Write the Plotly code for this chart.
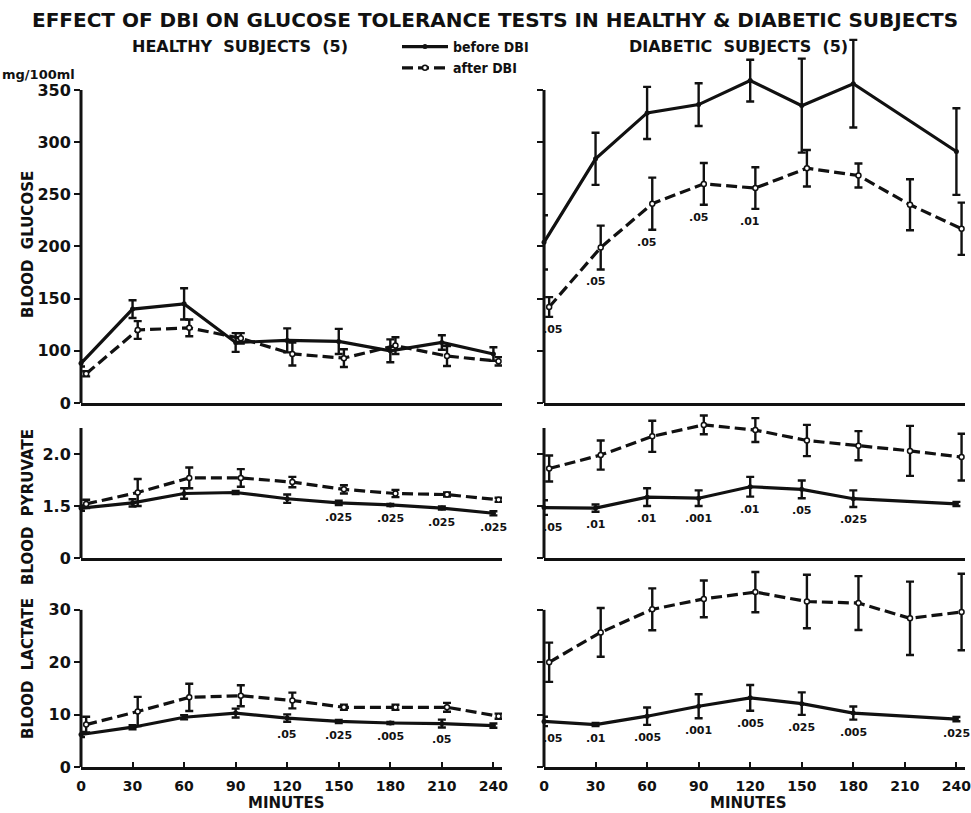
import plotly.graph_objects as go

# ---------------- data ----------------
minutes = [0, 30, 60, 90, 120, 150, 180, 210, 240]
minutes_after = [3, 33, 63, 93, 123, 153, 183, 213, 243]
x_ticks = [0, 30, 60, 90, 120, 150, 180, 210, 240]

# Healthy subjects
hg_before = [88, 140, 145, 108, 110, 109, 100, 108, 97]
hg_before_err = [3, 8.5, 15, 9, 11.5, 12, 11, 7, 6.5]
hg_after = [78, 120, 122, 112, 97, 93, 105, 95, 90]
hg_after_err = [2.5, 8.5, 8, 5, 11, 8.5, 8, 9.5, 4]

hp_before = [1.48, 1.53, 1.62, 1.63, 1.57, 1.53, 1.51, 1.48, 1.43]
hp_before_err = [0.025, 0.035, 0.05, 0.015, 0.04, 0.02, 0.01, 0.015, 0.02]
hp_after = [1.52, 1.63, 1.77, 1.77, 1.73, 1.66, 1.62, 1.61, 1.56]
hp_after_err = [0.04, 0.13, 0.1, 0.085, 0.05, 0.04, 0.035, 0.02, 0.02]

hl_before = [6.2, 7.6, 9.5, 10.3, 9.35, 8.7, 8.4, 8.3, 7.9]
hl_before_err = [0.5, 0.4, 0.4, 0.85, 0.7, 0.3, 0.2, 0.75, 0.4]
hl_after = [8.1, 10.6, 13.3, 13.6, 12.7, 11.4, 11.4, 11.4, 9.7]
hl_after_err = [1.5, 2.8, 2.6, 2.0, 1.5, 0.5, 0.5, 0.85, 0.5]

# Diabetic subjects
dg_before = [204, 284, 328, 336, 359, 335, 356, None, 291]
dg_before_err = [26, 25, 25, 20.5, 20, 45, 42, None, 41.5]
dg_after = [142, 199, 241, 260, 256, 275, 268, 240, 217]
dg_after_err = [9.5, 21, 25, 20, 20, 17.5, 11.5, 24.5, 25]

dp_before = [1.485, 1.48, 1.585, 1.575, 1.685, 1.66, 1.57, None, 1.52]
dp_before_err = [0.07, 0.035, 0.085, 0.075, 0.095, 0.085, 0.08, None, 0.02]
dp_after = [1.86, 1.99, 2.17, 2.28, 2.23, 2.13, 2.08, 2.03, 1.97]
dp_after_err = [0.125, 0.14, 0.15, 0.09, 0.115, 0.15, 0.14, 0.24, 0.225]

dl_before = [8.7, 8.1, 9.7, 11.6, 13.2, 12.1, 10.3, None, 9.15]
dl_before_err = [0.9, 0.3, 1.65, 2.3, 2.45, 2.15, 1.25, None, 0.4]
dl_after = [20.0, 25.7, 30.1, 32.1, 33.4, 31.6, 31.3, 28.4, 29.6]
dl_after_err = [3.75, 4.65, 4.0, 3.5, 3.85, 5.1, 5.15, 7.0, 7.3]

# significance (p) labels
hg_p = [None] * 9
hp_p = [None, None, None, None, None, ".025", ".025", ".025", ".025"]
hl_p = [None, None, None, None, ".05", ".025", ".005", ".05", None]
dg_p = [".05", ".05", ".05", ".05", ".01", None, None, None, None]
dp_p = [".05", ".01", ".01", ".001", ".01", ".05", ".025", None, None]
dl_p = [".05", ".01", ".005", ".001", ".005", ".025", ".005", None, ".025"]

# axis tick values / labels (axes are broken: the "0" sits one step below)
glu_tickvals = [50, 100, 150, 200, 250, 300, 350]
glu_ticktext = ["0", "100", "150", "200", "250", "300", "350"]
pyr_tickvals = [1.0, 1.5, 2.0]
pyr_ticktext = ["0", "1.5", "2.0"]
lac_tickvals = [0, 10, 20, 30]
lac_ticktext = ["0", "10", "20", "30"]

# ---------------- layout helpers ----------------
W, H = 971, 813
FONT = "DejaVu Sans"
NARROW = "Liberation Sans Narrow, DejaVu Sans Condensed, Liberation Sans"
BLACK = "#111111"

def px_x(a, b):
    return [a / W, b / W]

def px_y(top, bottom):
    return [1 - bottom / H, 1 - top / H]

x_dom = {"L": px_x(81, 502), "R": px_x(544, 965)}
y_dom = {"G": px_y(37.8, 403), "P": px_y(412.4, 558), "L": px_y(568, 767)}
y_rng = {"G": [50, 400], "P": [1.0, 2.4], "L": [0, 38]}
y_axis_top = {"G": 350, "P": 2.25, "L": 30}
y_tv = {"G": (glu_tickvals, glu_ticktext), "P": (pyr_tickvals, pyr_ticktext),
        "L": (lac_tickvals, lac_ticktext)}

panels = [
    ("G", "L", hg_before, hg_before_err, hg_after, hg_after_err, hg_p),
    ("G", "R", dg_before, dg_before_err, dg_after, dg_after_err, dg_p),
    ("P", "L", hp_before, hp_before_err, hp_after, hp_after_err, hp_p),
    ("P", "R", dp_before, dp_before_err, dp_after, dp_after_err, dp_p),
    ("L", "L", hl_before, hl_before_err, hl_after, hl_after_err, hl_p),
    ("L", "R", dl_before, dl_before_err, dl_after, dl_after_err, dl_p),
]

fig = go.Figure()
layout = {}
annotations = []
shapes = []

for k, (row, col, b, be, a, ae, pv) in enumerate(panels, start=1):
    sfx = "" if k == 1 else str(k)
    xa, ya = "x" + sfx, "y" + sfx
    first = k == 1
    fig.add_trace(go.Scatter(
        x=minutes, y=b, xaxis=xa, yaxis=ya, mode="lines+markers",
        name="before DBI", showlegend=first, legendrank=1,
        line=dict(color=BLACK, width=3.2), connectgaps=True,
        marker=dict(size=5, color=BLACK),
        error_y=dict(type="data", array=be, visible=True, color=BLACK,
                     thickness=2.4, width=4),
        cliponaxis=False,
    ))
    fig.add_trace(go.Scatter(
        x=minutes_after, y=a, xaxis=xa, yaxis=ya, mode="lines+markers",
        name="after DBI", showlegend=first, legendrank=2,
        line=dict(color=BLACK, width=3.2, dash="11px,5px"),
        marker=dict(size=5, color="white", line=dict(color=BLACK, width=1.5)),
        error_y=dict(type="data", array=ae, visible=True, color=BLACK,
                     thickness=2.4, width=4),
        cliponaxis=False,
    ))

    is_bottom = row == "L"
    layout["xaxis" + sfx] = dict(
        domain=x_dom[col], anchor=ya, range=[0, 245],
        showline=True, linewidth=3, linecolor=BLACK, mirror=False,
        showgrid=False, zeroline=False,
        tickvals=x_ticks if is_bottom else [],
        ticks="inside" if is_bottom else "", ticklen=5, tickwidth=2,
        tickcolor=BLACK, ticklabelstandoff=4, ticklabeloverflow="allow",
        showticklabels=is_bottom,
        tickfont=dict(family=FONT, size=14, color=BLACK, weight="bold"),
    )
    tv, tt = y_tv[row]
    layout["yaxis" + sfx] = dict(
        domain=y_dom[row], anchor=xa, range=y_rng[row],
        showline=False, showgrid=False, zeroline=False,
        tickvals=tv, ticktext=tt, ticks="outside", ticklen=6, tickwidth=2.2,
        tickcolor=BLACK, showticklabels=(col == "L"),
        tickfont=dict(family=FONT, size=16, color=BLACK, weight="bold"),
    )
    # vertical axis line, ending at the top tick as in the reference
    shapes.append(dict(
        type="line", xref=xa + " domain", yref=ya, x0=0, x1=0,
        y0=y_rng[row][0], y1=y_axis_top[row],
        line=dict(color=BLACK, width=3),
    ))

    # p-value labels below the lowest error bar
    for i, p in enumerate(pv):
        if p is None:
            continue
        lows = []
        if b[i] is not None:
            lows.append(b[i] - be[i])
        if a[i] is not None:
            lows.append(a[i] - ae[i])
        annotations.append(dict(
            x=minutes[i], y=min(lows), xref=xa, yref=ya, text=p,
            showarrow=False, yanchor="top", xanchor="center",
            xshift=9 if minutes[i] == 0 else 0, yshift=-4,
            font=dict(family=FONT, size=11, color=BLACK, weight="bold"),
        ))

def txt(text, x, y, size, angle=0, family=FONT):
    annotations.append(dict(
        text=text, x=x / W, y=1 - y / H, xref="paper", yref="paper",
        showarrow=False, textangle=angle, xanchor="center", yanchor="middle",
        font=dict(family=family, size=size, color=BLACK, weight="bold"),
    ))

txt("EFFECT OF DBI ON GLUCOSE TOLERANCE TESTS IN HEALTHY &amp; DIABETIC SUBJECTS", 495, 20, 20)
txt("HEALTHY  SUBJECTS  (5)", 240, 47, 16)
txt("DIABETIC  SUBJECTS  (5)", 738, 47, 16)
txt("mg/100ml", 38, 75, 13)
txt("BLOOD  GLUCOSE", 28, 245, 15, angle=-90)
txt("BLOOD  PYRUVATE", 28, 507, 15, angle=-90)
txt("BLOOD  LACTATE", 28, 669, 15, angle=-90)
txt("MINUTES", 286, 803, 15)
txt("MINUTES", 748, 803, 15)

layout.update(
    width=W, height=H,
    margin=dict(l=0, r=0, t=0, b=0, autoexpand=False),
    paper_bgcolor="white", plot_bgcolor="white",
    showlegend=True,
    legend=dict(x=397 / W, y=1 - 31 / H, xanchor="left", yanchor="top",
                bgcolor="rgba(0,0,0,0)",
                font=dict(family=NARROW, size=14, color=BLACK, weight="bold"),
                itemwidth=46, tracegroupgap=0),
    annotations=annotations,
    shapes=shapes,
)
fig.update_layout(**layout)
fig.write_html("out.html",
               config={"displayModeBar": False},
               post_script="document.body.style.margin='0';document.body.style.overflow='hidden';")
